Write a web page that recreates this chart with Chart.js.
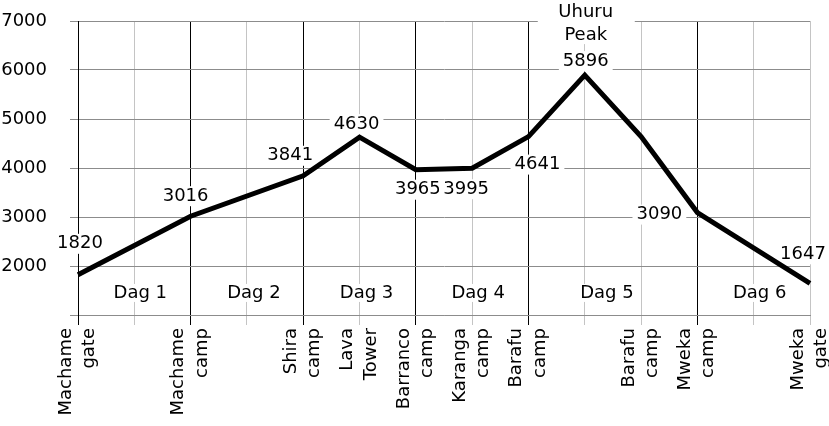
<!DOCTYPE html>
<html>
<head>
<meta charset="utf-8">
<script src="https://cdn.jsdelivr.net/npm/chart.js@4"></script>
<style>
  html, body { margin: 0; padding: 0; background: #fff; }
</style>
</head>
<body>
<canvas id="myChart" width="829" height="426"></canvas>
<script>
// stops along the route, '' = plain grid column
const stops = ['Machame gate', '', 'Machame camp', '', 'Shira camp', 'Lava Tower',
  'Barranco camp', 'Karanga camp', 'Barafu camp', '', 'Barafu camp', 'Mweka camp', '', 'Mweka gate'];
// altitude in metres (null = no stop in that column)
const altitude = [1820, null, 3016, null, 3841, 4630, 3965, 3995, 4641, 5896, 4641, 3090, null, 1647];
const peakName = ['Uhuru', 'Peak'];
const peakIndex = 9;
const days = ['Dag 1', 'Dag 2', 'Dag 3', 'Dag 4', 'Dag 5', 'Dag 6'];
const dayBounds = [0, 2, 4, 6, 8, 11, 13];
const yTicks = [1000, 2000, 3000, 4000, 5000, 6000, 7000];

const FONT = '18px "DejaVu Sans", Verdana, sans-serif';

// where each altitude label sits relative to its point (px)
const labelPos = {
  0: [2, -31], 2: [-5, -20], 4: [-13, -20], 5: [-3, -13], 6: [2, 20],
  7: [-6, 21], 8: [9, 28], 9: [1, -14], 11: [-38, 2], 13: [-7, -29]
};
const dayShift = [6, 7, 7, 6, -6, 6];

function boxedText(ctx, text, x, y, padX, padY) {
  const w = ctx.measureText(text).width;
  ctx.fillStyle = '#fff';
  ctx.fillRect(x - w / 2 - padX, y - 8 - padY, w + 2 * padX, 16 + 2 * padY);
  ctx.fillStyle = '#000';
  ctx.fillText(text, x, y);
}

// all texts go on the grid, under the line
const annotate = {
  id: 'annotate',
  beforeDatasetsDraw(chart) {
    const { ctx, scales: { x, y } } = chart;
    const meta = chart.getDatasetMeta(0);
    ctx.save();
    ctx.font = FONT;
    ctx.textAlign = 'center';
    ctx.textBaseline = 'middle';
    days.forEach((d, i) => {
      const cx = (x.getPixelForValue(dayBounds[i]) + x.getPixelForValue(dayBounds[i + 1])) / 2 + dayShift[i];
      boxedText(ctx, d, cx, y.getPixelForValue(1450), 3, 1);
    });
    // name of the summit above its value
    const p = meta.data[peakIndex];
    ctx.fillStyle = '#fff';
    ctx.fillRect(p.x - 47, p.y - 76, 97, 45);
    ctx.fillStyle = '#000';
    ctx.fillText(peakName[0], p.x + 1, p.y - 63);
    ctx.fillText(peakName[1], p.x + 1, p.y - 40);
    Object.keys(labelPos).forEach((k) => {
      const pt = meta.data[k];
      const [dx, dy] = labelPos[k];
      boxedText(ctx, String(altitude[k]), pt.x + dx, pt.y + dy, 4, 2);
    });
    ctx.restore();
  }
};

Chart.defaults.font.family = '"DejaVu Sans", Verdana, sans-serif';
Chart.defaults.font.size = 18;
Chart.defaults.color = '#000';

const ctx = document.getElementById('myChart').getContext('2d');

new Chart(ctx, {
  type: 'line',
  data: {
    labels: stops,
    datasets: [{
      data: altitude,
      borderColor: '#000',
      borderWidth: 5,
      pointRadius: 0,
      tension: 0,
      spanGaps: true,
      borderJoinStyle: 'miter'
    }]
  },
  options: {
    responsive: false,
    animation: false,
    layout: { padding: { top: 21, right: 19, left: 0, bottom: 0 } },
    plugins: { legend: { display: false }, tooltip: { enabled: false } },
    scales: {
      x: {
        type: 'category',
        offset: false,
        afterFit: (s) => {
          s.height = 111;
          s.paddingLeft = s.paddingRight = s.paddingTop = s.paddingBottom = 0;
        },
        border: { color: '#8c8c8c', width: 1 },
        grid: {
          color: (c) => dayBounds.slice(0, -1).includes(c.index) ? '#000' : '#c4c4c4',
          tickLength: 10
        },
        ticks: {
          autoSkip: false,
          minRotation: 90,
          maxRotation: 90,
          padding: 3,
          labelOffset: -12,
          font: { size: 18, lineHeight: 1.3 },
          callback: (v, i) => stops[i] ? stops[i].split(' ') : ''
        }
      },
      y: {
        min: 1000,
        max: 7000,
        afterFit: (s) => {
          s.width = 78;
          s.paddingLeft = s.paddingRight = s.paddingTop = s.paddingBottom = 0;
        },
        afterBuildTicks: (s) => { s.ticks = yTicks.map((v) => ({ value: v })); },
        border: { color: '#000', width: 1 },
        grid: { color: '#8c8c8c', tickLength: 8 },
        ticks: {
          padding: 23,
          callback: (v) => v === 1000 ? '' : v
        }
      }
    }
  },
  plugins: [annotate]
});
</script>
</body>
</html>
